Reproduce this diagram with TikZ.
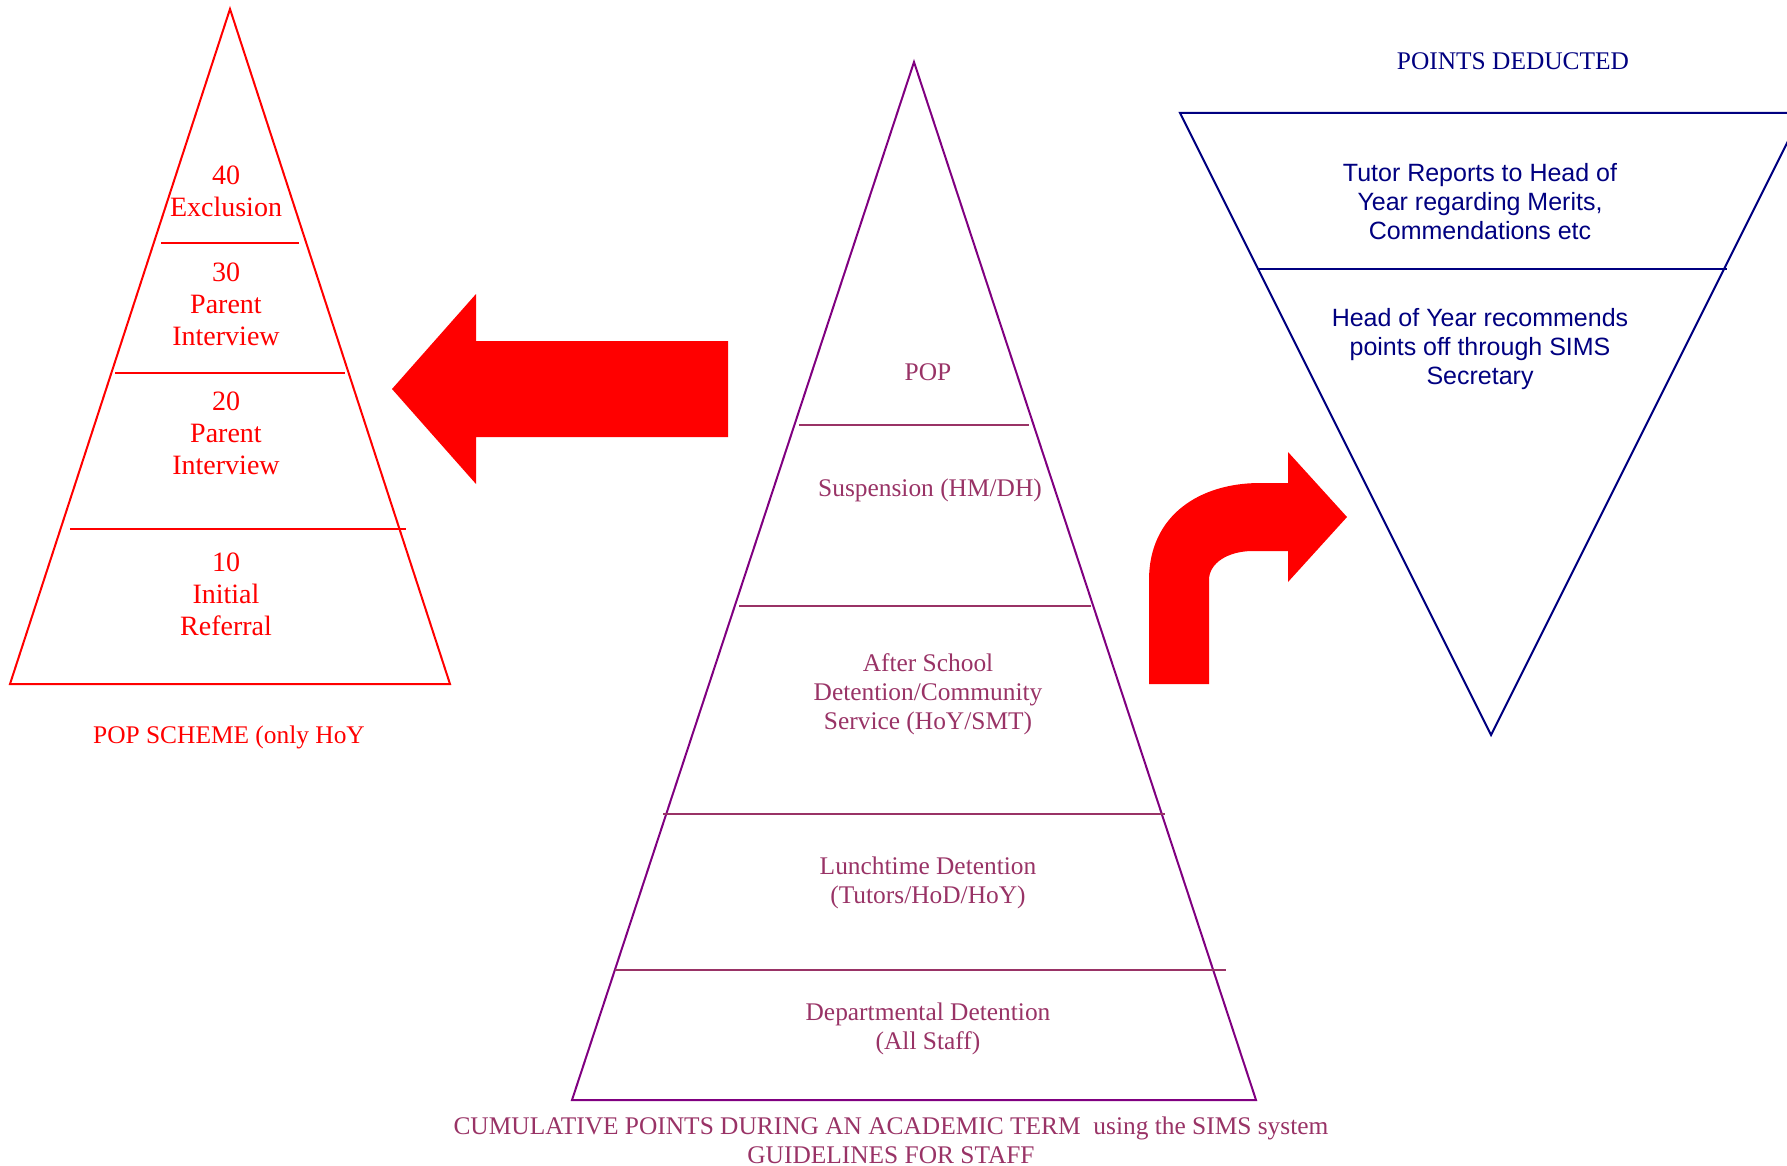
\documentclass[tikz,border=0pt]{standalone}
\usepackage{fontspec}
\setmainfont{Liberation Serif}
\newfontfamily\arialfont{Liberation Sans}
\usetikzlibrary{positioning}

\definecolor{trianglepurple}{HTML}{800080}
\definecolor{stageplum}{HTML}{993366}
\definecolor{deductnavy}{HTML}{000080}

\tikzset{
	popline/.style={draw=red,line width=1pt},
	stageline/.style={draw=stageplum,line width=1pt},
	deductline/.style={draw=deductnavy,line width=1pt},
	poptext/.style={text=red,font=\fontsize{14}{16}\selectfont,align=center,inner sep=0pt},
	stagetext/.style={text=stageplum,font=\fontsize{12.7}{14.5}\selectfont,align=center,inner sep=0pt},
	deducttext/.style={text=deductnavy,font=\arialfont\fontsize{12.5}{14.5}\selectfont,align=center,inner sep=0pt},
	bigarrow/.style={fill=red,draw=none}
}

\begin{document}
\begin{tikzpicture}[x=0.5pt,y=-0.5pt]
		\useasboundingbox (0,0) rectangle (1787,1166);
		\clip (0,0) rectangle (1787,1166);

		% POP scheme
		\coordinate (pop-apex) at (230,9);
		\coordinate (pop-left) at (10,684);
		\coordinate (pop-right) at (450,684);
		\draw[popline] (pop-apex) -- (pop-left) -- (pop-right) -- cycle;
		\draw[popline] (161,243) -- (299,243);
		\draw[popline] (115,373) -- (345,373);
		\draw[popline] (70,529) -- (406,529);
		\node[poptext] (pop40) at (226,191) {40\\Exclusion};
		\node[poptext] (pop30) at (226,304) {30\\Parent\\Interview};
		\node[poptext] (pop20) at (226,433) {20\\Parent\\Interview};
		\node[poptext] (pop10) at (226,594) {10\\Initial\\Referral};
		\node[stagetext,text=red] (popcap) at (229,737) {POP SCHEME (only HoY};

		% arrow to the POP scheme
		\path[bigarrow] (392,389) -- (476,294) -- (476,341) -- (728,341)
			-- (728,437) -- (476,437) -- (476,484) -- cycle;

		% cumulative points
		\coordinate (cum-apex) at (914,62);
		\coordinate (cum-left) at (572,1100);
		\coordinate (cum-right) at (1256,1100);
		\draw[draw=trianglepurple,line width=1pt] (cum-apex) -- (cum-left) -- (cum-right) -- cycle;
		\draw[stageline] (799,425) -- (1029,425);
		\draw[stageline] (739,606) -- (1091,606);
		\draw[stageline] (663,814) -- (1165,814);
		\draw[stageline] (615,970) -- (1226,970);
		\node[stagetext] (stagePOP) at (928,372) {POP};
		\node[stagetext] (stageSusp) at (930,490) {Suspension (HM/DH)};
		\node[stagetext] (stageAfter) at (928,694) {After School\\Detention/Community\\Service (HoY/SMT)};
		\node[stagetext] (stageLunch) at (928,883) {Lunchtime Detention\\(Tutors/HoD/HoY)};
		\node[stagetext] (stageDept) at (928,1029) {Departmental Detention\\(All Staff)};
		\node[stagetext] (cumcap) at (891,1140) {CUMULATIVE POINTS DURING AN ACADEMIC TERM\ \ using the SIMS system\\GUIDELINES FOR STAFF};

		% bent arrow to points deducted
		\path[bigarrow] (1149,684) -- (1149,580) .. controls (1149,515) and (1200,483) .. (1260,483)
			-- (1288,483) -- (1288,452) -- (1347,517) -- (1288,582) -- (1288,551) -- (1253,551)
			.. controls (1228,551) and (1209,563) .. (1209,580) -- (1209,684) -- cycle;

		% points deducted
		\coordinate (ded-left) at (1180,113);
		\coordinate (ded-right) at (1802,113);
		\coordinate (ded-apex) at (1491,735);
		\draw[deductline] (ded-left) -- (ded-right) -- (ded-apex) -- cycle;
		\draw[deductline] (1257,269) -- (1727,269);
		\node[stagetext,text=deductnavy] (deduct) at (1513,61) {POINTS DEDUCTED};
		\node[deducttext] (tutor) at (1480,202) {Tutor Reports to Head of\\Year regarding Merits,\\Commendations etc};
		\node[deducttext] (hoy) at (1480,349) {Head of Year recommends\\points off through SIMS\\Secretary};
	\end{tikzpicture}
\end{document}
